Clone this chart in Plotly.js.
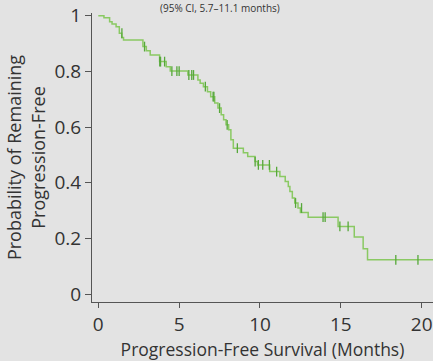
<!DOCTYPE html>
<html>
<head>
<meta charset="utf-8">
<script src="https://cdn.plot.ly/plotly-3.0.1.min.js"></script>
<style>html,body{margin:0;padding:0;background:#e3e3e3;}#chart{width:433px;height:361px;}</style>
</head>
<body>
<div id="chart"></div>
<script>
// Kaplan-Meier step curve (time in months, probability progression-free)
const stepTimes = [0, 0.35, 0.7, 0.85, 1.1, 1.3, 1.45, 1.56, 2.76, 2.97, 3.21, 3.79, 4.2, 4.45, 5.54, 6.16, 6.3, 6.5, 6.75, 6.95, 7.2, 7.4, 7.6, 7.75, 7.9, 8.06, 8.2, 8.35, 8.97, 9.24, 9.69, 9.85, 10.6, 11.23, 11.56, 11.75, 11.85, 12.0, 12.15, 12.35, 12.5, 12.98, 14.83, 15.83, 16.38, 16.65, 21];
const stepSurv = [1.0, 0.993, 0.978, 0.97, 0.96, 0.937, 0.922, 0.913, 0.889, 0.874, 0.859, 0.835, 0.817, 0.801, 0.787, 0.769, 0.757, 0.745, 0.727, 0.709, 0.686, 0.668, 0.644, 0.626, 0.608, 0.59, 0.554, 0.524, 0.508, 0.494, 0.476, 0.464, 0.44, 0.422, 0.404, 0.386, 0.368, 0.345, 0.327, 0.309, 0.293, 0.276, 0.243, 0.205, 0.163, 0.123, 0.123];

// Censored observations
const censorTimes = [1.46, 2.86, 3.8, 3.85, 4.1, 4.55, 4.86, 5.0, 5.6, 5.78, 5.89, 6.62, 7.1, 7.15, 7.5, 7.97, 8.6, 9.7, 9.9, 10.17, 10.58, 11.03, 12.2, 12.57, 13.9, 14.03, 14.94, 15.45, 18.4, 19.77];
const censorSurv = [0.937, 0.889, 0.835, 0.835, 0.835, 0.801, 0.801, 0.801, 0.787, 0.787, 0.787, 0.745, 0.709, 0.709, 0.668, 0.608, 0.524, 0.476, 0.464, 0.464, 0.464, 0.44, 0.327, 0.309, 0.276, 0.276, 0.243, 0.243, 0.123, 0.123];

const xTickVals = [0, 5, 10, 15, 20];
const xTickText = ['0', '5', '10', '15', '20'];
const yTickVals = [0, 0.2, 0.4, 0.6, 0.8, 1];
const yTickText = ['0', '0.2', '0.4', '0.6', '0.8', '1'];

const xTitle = 'Progression-Free Survival (Months)';
const yTitle = 'Probability of Remaining<br>Progression-Free';
const topText = '(95% CI, 5.7–11.1 months)';

const FONT = 'Open Sans, Noto Sans, sans-serif';
const TXT = '#333333';

const traces = [
  {
    x: stepTimes, y: stepSurv, type: 'scatter', mode: 'lines',
    line: {shape: 'hv', color: '#8ac963', width: 1.5},
    hoverinfo: 'skip', showlegend: false
  },
  {
    x: censorTimes, y: censorSurv, type: 'scatter', mode: 'markers',
    marker: {symbol: 'line-ns', size: 7, line: {color: '#56a83a', width: 1.3}},
    hoverinfo: 'skip', showlegend: false
  }
];

const layout = {
  width: 433, height: 361,
  paper_bgcolor: '#e3e3e3', plot_bgcolor: '#e3e3e3',
  margin: {l: 92, r: 0, t: 13, b: 59, pad: 0},
  font: {family: FONT, color: TXT, size: 16},
  xaxis: {
    range: [-0.39, 20.7], tickvals: xTickVals, ticktext: xTickText,
    showgrid: false, zeroline: false, showline: true, linecolor: '#555', linewidth: 1,
    ticks: 'outside', ticklen: 5, tickcolor: '#555', tickwidth: 1,
    tickfont: {family: FONT, size: 19, color: TXT},
    title: {text: xTitle, font: {family: FONT, size: 17.5, color: TXT}, standoff: 6},
    automargin: false
  },
  yaxis: {
    range: [-0.0287, 1.0097], tickvals: yTickVals, ticktext: yTickText,
    showgrid: false, zeroline: false, showline: true, linecolor: '#555', linewidth: 1,
    ticks: 'outside', ticklen: 6, tickcolor: '#555', tickwidth: 1,
    tickfont: {family: FONT, size: 19, color: TXT},
    title: {text: yTitle, font: {family: FONT, size: 18, color: TXT}, standoff: 4},
    automargin: false
  },
  annotations: [{
    text: topText, xref: 'paper', yref: 'paper', x: 0.375, y: 1.045,
    xanchor: 'center', yanchor: 'top', borderpad: 0, showarrow: false,
    font: {family: FONT, size: 10, color: TXT}
  }]
};

Plotly.newPlot('chart', traces, layout, {displayModeBar: false, staticPlot: true});
</script>
</body>
</html>
